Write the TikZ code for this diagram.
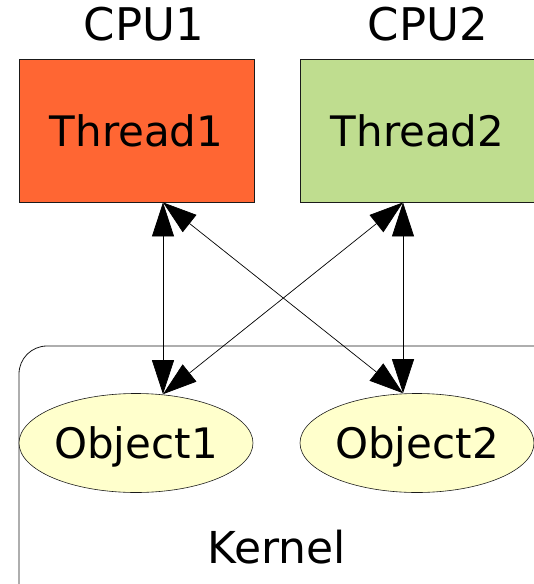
\documentclass[tikz,border=0pt]{standalone}
\usepackage{fontspec}
\setmainfont{DejaVu Sans}
\usepackage{xcolor}
\definecolor{threadred}{HTML}{FF6633}
\definecolor{threadgreen}{HTML}{BFDD8F}
\definecolor{objyellow}{HTML}{FFFFCC}
\definecolor{edge}{HTML}{1A1A1A}
\usetikzlibrary{arrows.meta,shapes.geometric,calc}

\begin{document}
\begin{tikzpicture}[x=1pt,y=1pt,
  thread/.style={draw=edge,line width=0.8pt,minimum width=235pt,minimum height=143pt,
    inner sep=0pt,font=\fontsize{42}{50}\selectfont},
  object/.style={ellipse,draw=edge,line width=0.6pt,fill=objyellow,minimum width=234pt,
    minimum height=99pt,inner sep=0pt,text depth=0pt,font=\fontsize{42}{50}\selectfont},
  title/.style={anchor=base,font=\fontsize{45}{54}\selectfont},
  link/.style={{Triangle[length=34pt,width=22pt]}-{Triangle[length=34pt,width=22pt]},
    draw=black,line width=0.7pt}]
  \clip (0,0) rectangle (534,-584);
  % kernel box
  \draw[edge,line width=0.8pt,rounded corners=28pt] (19,-346) rectangle (580,-640);
  \node[title,font=\fontsize{44}{52}\selectfont] (kernel) at (277,-563) {Kernel};
  % objects
  \node[object] (o1) at (136,-443) {Object1};
  \node[object] (o2) at (417,-443) {Object2};
  % threads
  \node[thread,fill=threadred] (t1) at (136.5,-130.5) {Thread1};
  \node[thread,fill=threadgreen] (t2) at (417.5,-130.5) {Thread2};
  \node[title] (cpu1) at (144,-40) {CPU1};
  \node[title] (cpu2) at (428,-40) {CPU2};
  % arrow ends
  \coordinate (t1p) at ($(t1.south)+(26.5,0)$);
  \coordinate (t2p) at ($(t2.south)+(-14.5,0)$);
  \coordinate (o1p) at ($(o1.north)+(27,-1)$);
  \coordinate (o2p) at ($(o2.north)+(-14,0)$);
  \draw[link] (t1p) -- (o1p);
  \draw[link] (t1p) -- (o2p);
  \draw[link] (t2p) -- (o1p);
  \draw[link] (t2p) -- (o2p);
\end{tikzpicture}
\end{document}
